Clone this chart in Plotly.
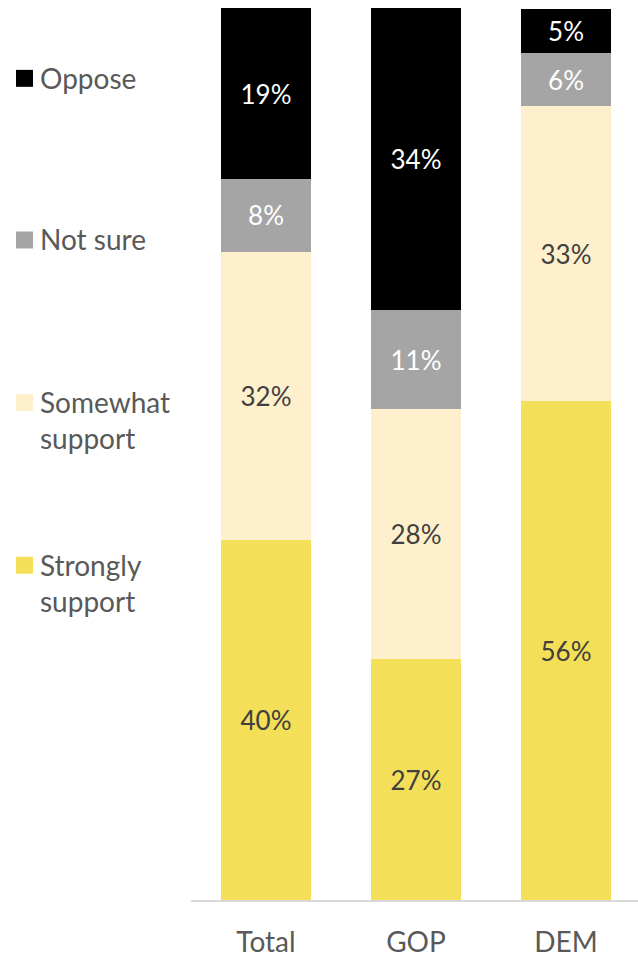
import plotly.graph_objects as go

categories = ["Total", "GOP", "DEM"]
series_names = ["Strongly support", "Somewhat support", "Not sure", "Oppose"]
strongly = [40.4, 27.0, 55.9]
somewhat = [32.3, 28.0, 33.1]
not_sure = [8.1, 11.1, 5.9]
oppose = [19.2, 34.0, 5.0]
labels_strongly = ["40%", "27%", "56%"]
labels_somewhat = ["32%", "28%", "33%"]
labels_not_sure = ["8%", "11%", "6%"]
labels_oppose = ["19%", "34%", "5%"]

colors = ["#F3DF58", "#FEF0CC", "#A5A5A5", "#000000"]
text_colors = ["#404040", "#404040", "#FFFFFF", "#FFFFFF"]
values = [strongly, somewhat, not_sure, oppose]
labels = [labels_strongly, labels_somewhat, labels_not_sure, labels_oppose]

FONT = "Lato"
W, H = 638, 958
L, T, B = 191, 8, 56

fig = go.Figure()
for name, vals, labs, c, tc in zip(series_names, values, labels, colors, text_colors):
    fig.add_trace(go.Bar(
        x=categories, y=vals, name=name, text=labs,
        textposition="inside", insidetextanchor="middle",
        textfont=dict(family=FONT, size=26, color=tc),
        marker=dict(color=c, line=dict(width=0)),
        width=0.6, hoverinfo="skip",
    ))

# legend as annotations (left side)
leg_items = [
    ("Oppose", 78, colors[3]),
    ("Not sure", 240, colors[2]),
    ("Somewhat<br>support", 421, colors[1]),
    ("Strongly<br>support", 584, colors[0]),
]
plot_w = W - L
plot_h = H - T - B
def px_x(x):
    return (x - L) / plot_w
def px_y(y):
    return (H - B - y) / plot_h

for text, yc, c in leg_items:
    first_line = yc if "<br>" not in text else yc - 18
    fig.add_shape(type="rect", xref="paper", yref="paper",
                  x0=px_x(16), x1=px_x(33), y0=px_y(first_line - 8), y1=px_y(first_line + 9),
                  fillcolor=c, line=dict(width=0))
    fig.add_annotation(xref="paper", yref="paper", x=px_x(38), y=px_y(yc),
                       text=text, showarrow=False, xanchor="left", yanchor="middle",
                       align="left", font=dict(family=FONT, size=28, color="#595959"))

fig.update_layout(
    barmode="stack",
    width=W, height=H,
    margin=dict(l=L, r=0, t=T, b=B, pad=0),
    plot_bgcolor="white", paper_bgcolor="white",
    showlegend=False,
    xaxis=dict(range=[-0.5, 2.48], showgrid=False, showline=True, linecolor="#D9D9D9",
               linewidth=2, ticks="", ticklabelstandoff=16,
               tickfont=dict(family=FONT, size=28, color="#595959"),
               fixedrange=True),
    yaxis=dict(range=[0, 100], visible=False, fixedrange=True),
    uniformtext=dict(mode=False),
)

fig.write_html("out.html", config={"displayModeBar": False})
